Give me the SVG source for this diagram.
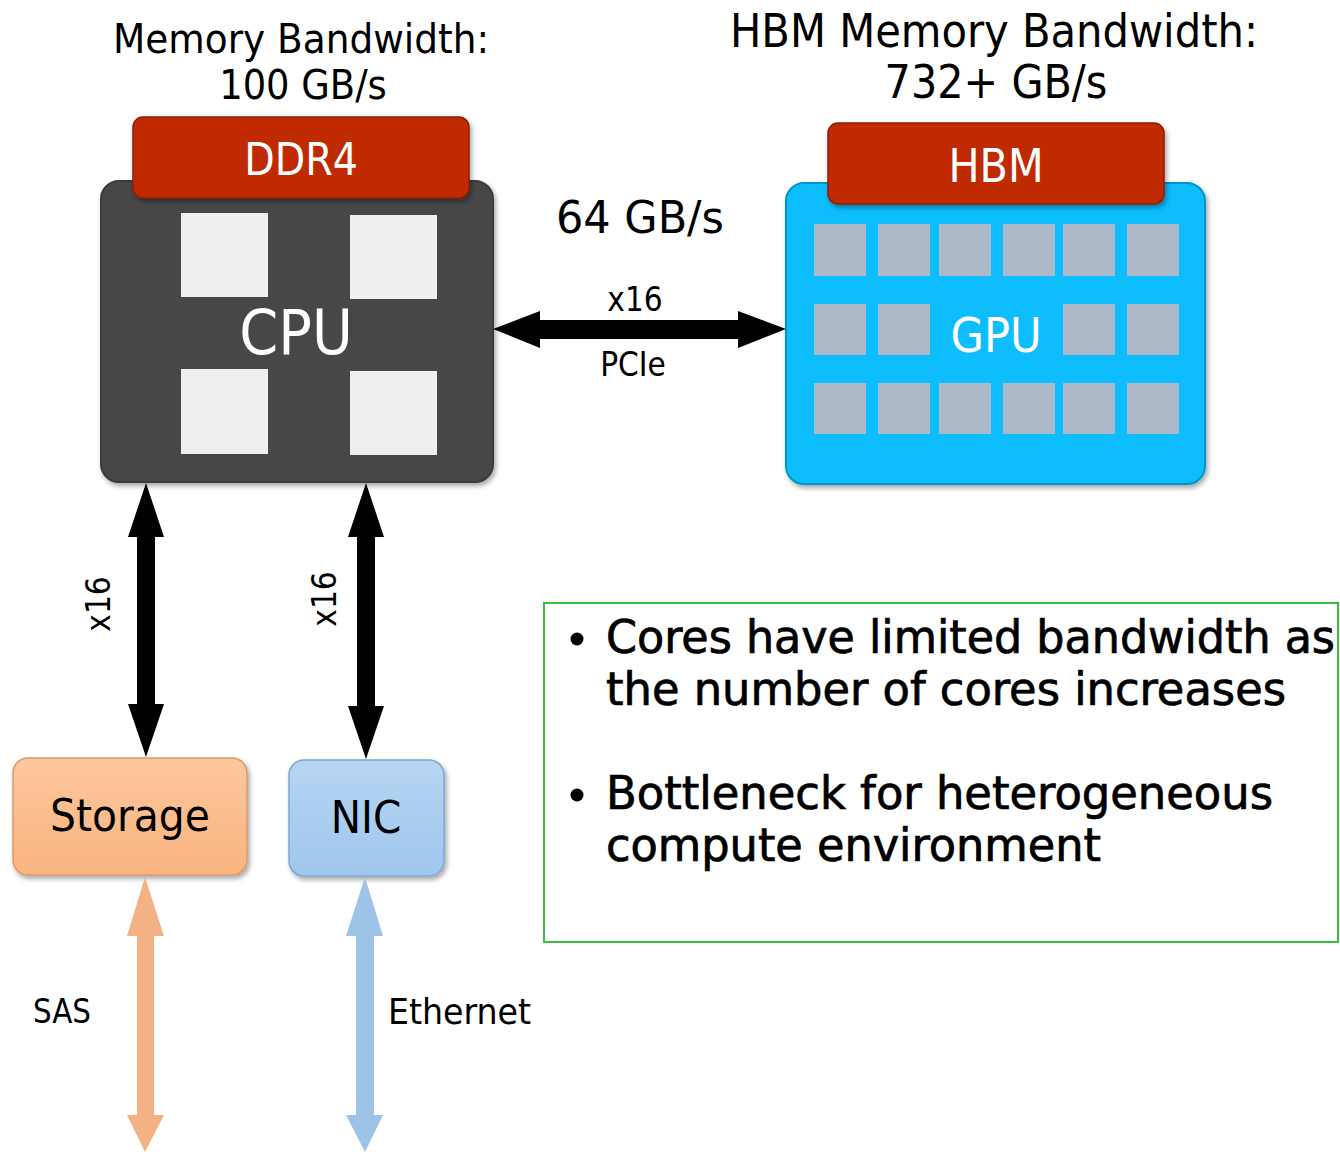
<svg xmlns="http://www.w3.org/2000/svg" width="1340" height="1152" viewBox="0 0 1340 1152">
<defs>
<style>
text{font-family:"DejaVu Sans Condensed","DejaVu Sans","Liberation Sans",sans-serif;}
.w{fill:#fff;}
.cc{fill:#efefef;}
.gc{fill:#adb9c9;}
.mem{fill:#c02b06;stroke:#8e1e04;stroke-width:1.5;}
.note{font-size:46px;stroke:#000;stroke-width:0.7;}
</style>
<linearGradient id="gStor" x1="0" y1="0" x2="0" y2="1"><stop offset="0" stop-color="#fdc79d"/><stop offset="1" stop-color="#f9b47f"/></linearGradient>
<linearGradient id="gNic" x1="0" y1="0" x2="0" y2="1"><stop offset="0" stop-color="#b6d6f3"/><stop offset="1" stop-color="#9fc6ec"/></linearGradient>
<filter id="sh" x="-10%" y="-10%" width="125%" height="125%"><feDropShadow dx="2" dy="3" stdDeviation="2.5" flood-color="#000" flood-opacity="0.35"/></filter>
</defs>
<rect width="1340" height="1152" fill="#fff"/>

<g id="titles">
<text x="113" y="53" font-size="41" textLength="376" lengthAdjust="spacingAndGlyphs">Memory Bandwidth:</text>
<text x="303" y="99" font-size="41" text-anchor="middle">100 GB/s</text>
<text x="730" y="47" font-size="46" textLength="528" lengthAdjust="spacingAndGlyphs">HBM Memory Bandwidth:</text>
<text x="996" y="98" font-size="46" text-anchor="middle">732+ GB/s</text>
<text x="556" y="233" font-size="44" textLength="168" lengthAdjust="spacingAndGlyphs">64 GB/s</text>
</g>

<g id="cpu">
<rect x="101" y="181" width="392" height="301" rx="18" fill="#474747" stroke="#3a3a3a" stroke-width="2" filter="url(#sh)"/>
<rect x="181" y="213" width="87" height="84" class="cc"/>
<rect x="350" y="215" width="87" height="84" class="cc"/>
<rect x="181" y="369" width="87" height="85" class="cc"/>
<rect x="350" y="371" width="87" height="84" class="cc"/>
<text x="296" y="354" font-size="62" text-anchor="middle" class="w">CPU</text>
</g>
<g id="ddr4">
<rect x="133" y="117" width="336" height="81" rx="10" class="mem" filter="url(#sh)"/>
<text x="301" y="175" font-size="44" text-anchor="middle" class="w">DDR4</text>
</g>

<g id="gpu">
<rect x="786" y="183" width="419" height="301" rx="18" fill="#08bdfe" stroke="#0596cc" stroke-width="2" filter="url(#sh)"/>
<rect x="814" y="224" width="52" height="52" class="gc"/><rect x="878" y="224" width="52" height="52" class="gc"/><rect x="939" y="224" width="52" height="52" class="gc"/><rect x="1003" y="224" width="52" height="52" class="gc"/><rect x="1063" y="224" width="52" height="52" class="gc"/><rect x="1127" y="224" width="52" height="52" class="gc"/>
<rect x="814" y="304" width="52" height="51" class="gc"/><rect x="878" y="304" width="52" height="51" class="gc"/><rect x="1063" y="304" width="52" height="51" class="gc"/><rect x="1127" y="304" width="52" height="51" class="gc"/>
<rect x="814" y="383" width="52" height="51" class="gc"/><rect x="878" y="383" width="52" height="51" class="gc"/><rect x="939" y="383" width="52" height="51" class="gc"/><rect x="1003" y="383" width="52" height="51" class="gc"/><rect x="1063" y="383" width="52" height="51" class="gc"/><rect x="1127" y="383" width="52" height="51" class="gc"/>
<text x="996" y="352" font-size="48" text-anchor="middle" class="w">GPU</text>
</g>
<g id="hbm">
<rect x="828" y="123" width="336" height="81" rx="10" class="mem" filter="url(#sh)"/>
<text x="996" y="182" font-size="46" text-anchor="middle" class="w">HBM</text>
</g>

<g id="storage">
<rect x="13" y="758" width="234" height="117" rx="15" fill="url(#gStor)" stroke="#d89a6c" stroke-width="1.5" filter="url(#sh)"/>
<text x="50" y="831" font-size="45" textLength="160" lengthAdjust="spacingAndGlyphs">Storage</text>
</g>
<g id="nic">
<rect x="289" y="760" width="155" height="116" rx="15" fill="url(#gNic)" stroke="#7fa7cf" stroke-width="1.5" filter="url(#sh)"/>
<text x="366" y="833" font-size="45" text-anchor="middle">NIC</text>
</g>

<g id="connectors">
<polygon fill="#000" points="493,329 540,311 540,320 738,320 738,311 786,329 738,348 738,339 540,339 540,348"/>
<polygon fill="#000" points="146,483 164,537 155,537 155,704 164,704 146,757 128,704 137,704 137,537 128,537"/>
<polygon fill="#000" points="366,483 384,537 375,537 375,706 384,706 366,759 348,706 357,706 357,537 348,537"/>
<polygon fill="#f4b183" points="145,877 164,936 154,936 154,1115 164,1115 145,1152 127,1115 137,1115 137,936 127,936"/>
<polygon fill="#9dc3e6" points="365,877 383,936 374,936 374,1115 383,1115 365,1152 346,1115 356,1115 356,936 346,936"/>
</g>

<g id="connector-labels">
<text x="635" y="311" font-size="33" text-anchor="middle">x16</text>
<text x="633" y="376" font-size="33" text-anchor="middle">PCIe</text>
<text transform="translate(110,604) rotate(-90)" font-size="33" text-anchor="middle">x16</text>
<text transform="translate(336,599) rotate(-90)" font-size="33" text-anchor="middle">x16</text>
<text x="33" y="1023" font-size="34" textLength="58" lengthAdjust="spacingAndGlyphs">SAS</text>
<text x="388" y="1024" font-size="35" textLength="143" lengthAdjust="spacingAndGlyphs">Ethernet</text>
</g>

<g id="notes">
<rect x="544" y="603" width="794" height="339" fill="none" stroke="#3dbb3d" stroke-width="2"/>
<circle cx="577" cy="639" r="6.5" fill="#000"/>
<circle cx="577" cy="795" r="6.5" fill="#000"/>
<text x="606" y="653" class="note" textLength="729" lengthAdjust="spacingAndGlyphs">Cores have limited bandwidth as</text>
<text x="606" y="705" class="note" textLength="680" lengthAdjust="spacingAndGlyphs">the number of cores increases</text>
<text x="606" y="809" class="note" textLength="667" lengthAdjust="spacingAndGlyphs">Bottleneck for heterogeneous</text>
<text x="606" y="861" class="note" textLength="495" lengthAdjust="spacingAndGlyphs">compute environment</text>
</g>
</svg>
